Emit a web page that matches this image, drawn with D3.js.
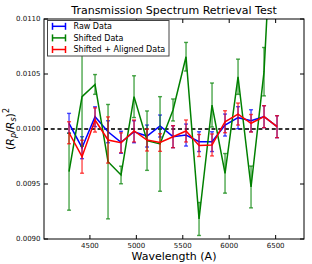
<!DOCTYPE html>
<html><head><meta charset="utf-8">
<script src="https://cdn.jsdelivr.net/npm/d3@7"></script>
<style>body{margin:0;background:#fff} svg{display:block} text{font-family:"DejaVu Sans",sans-serif}</style>
</head><body><svg id="c" width="312" height="264"></svg>
<script>
const wavelength = [4275,4415,4555,4695,4835,4975,5115,5255,5395,5535,5675,5815,5955,6095,6235,6375,6515];
const rawVal   = [0.010052,0.009830,0.010112,0.009975,0.009879,0.009975,0.009936,0.010027,0.009930,0.009945,0.009885,0.009885,0.010036,0.010103,0.010075,0.010112,0.010021];
const rawErr   = [0.00009,0.00010,0.00009,0.00010,0.00010,0.00010,0.00010,0.00010,0.00010,0.00010,0.00009,0.00009,0.00010,0.00010,0.00010,0.00010,0.00010];
const shiftVal = [0.009612,0.010294,0.010405,0.009703,0.009582,0.010294,0.009894,0.009864,0.010173,0.010657,0.009182,0.010218,0.009597,0.010475,0.009473,0.010521,0.012800];
const shiftErr = [0.00035,0.00045,0.00009,0.00052,0.00008,0.00019,0.00027,0.00043,0.00010,0.00013,0.00015,0.00020,0.00018,0.00016,0.00019,0.00022,0.00020];
const alignVal = [0.009966,0.009748,0.010082,0.009900,0.009875,0.009982,0.009900,0.009877,0.009930,0.009982,0.009850,0.009855,0.010066,0.010136,0.010052,0.010112,0.010021];
const alignErr = [0.00010,0.00015,0.00011,0.00021,0.00009,0.00010,0.00010,0.00008,0.00010,0.00010,0.00010,0.00010,0.00010,0.00010,0.00008,0.00010,0.00010];
const xTicks = [4500,5000,5500,6000,6500];
const yTicks = [0.0090,0.0095,0.0100,0.0105,0.0110];
const refLevel = 0.0100;
const seriesNames = ["Raw Data","Shifted Data","Shifted + Aligned Data"];
const seriesColors = ["#0000ff","#008000","#ff0000"];
const titleText = "Transmission Spectrum Retrieval Test";
const xLabel = "Wavelength (A)";

const L=44, R=304, T=19, B=239;
const svg = d3.select("#c");
const x = d3.scaleLinear().domain([4000,6800]).range([43.5,303.5]);
const y = d3.scaleLinear().domain([0.009,0.011]).range([B,T]);

svg.append("defs").append("clipPath").attr("id","clip").append("rect")
  .attr("x",L).attr("y",T).attr("width",R-L).attr("height",B-T);

const series = [
  {v:rawVal,e:rawErr,c:seriesColors[0]},
  {v:shiftVal,e:shiftErr,c:seriesColors[1]},
  {v:alignVal,e:alignErr,c:seriesColors[2]}
];

const plot = svg.append("g").attr("clip-path","url(#clip)");
// reference dashed line
plot.append("line").attr("x1",L).attr("x2",R).attr("y1",y(refLevel)).attr("y2",y(refLevel))
  .attr("stroke","#333").attr("stroke-width",1.8).attr("stroke-dasharray","4 2.7");

const line = d3.line().x((d,i)=>x(wavelength[i])).y(d=>y(d));
series.forEach(s=>{
  const g = plot.append("g");
  g.append("path").datum(s.v).attr("d",line).attr("fill","none")
    .attr("stroke",s.c).attr("stroke-width",1.5);
  const eb = g.selectAll("g.eb").data(s.v).join("g").attr("stroke",s.c)
    .attr("stroke-opacity",0.7).attr("stroke-width",1.4);
  eb.append("line").attr("x1",(d,i)=>x(wavelength[i])).attr("x2",(d,i)=>x(wavelength[i]))
    .attr("y1",(d,i)=>y(d+s.e[i])).attr("y2",(d,i)=>y(d-s.e[i]));
  eb.append("line").attr("x1",(d,i)=>x(wavelength[i])-2).attr("x2",(d,i)=>x(wavelength[i])+2)
    .attr("y1",(d,i)=>y(d+s.e[i])).attr("y2",(d,i)=>y(d+s.e[i]));
  eb.append("line").attr("x1",(d,i)=>x(wavelength[i])-2).attr("x2",(d,i)=>x(wavelength[i])+2)
    .attr("y1",(d,i)=>y(d-s.e[i])).attr("y2",(d,i)=>y(d-s.e[i]));
});

// frame
svg.append("rect").attr("x",L).attr("y",T).attr("width",R-L).attr("height",B-T)
  .attr("fill","none").attr("stroke","#000").attr("stroke-width",1);

// ticks
const tk = svg.append("g").attr("stroke","#000").attr("stroke-width",1);
xTicks.forEach(t=>{
  tk.append("line").attr("x1",x(t)).attr("x2",x(t)).attr("y1",B).attr("y2",B-4);
  tk.append("line").attr("x1",x(t)).attr("x2",x(t)).attr("y1",T).attr("y2",T+4);
});
yTicks.forEach(t=>{
  tk.append("line").attr("x1",L).attr("x2",L+4).attr("y1",y(t)).attr("y2",y(t));
  tk.append("line").attr("x1",R).attr("x2",R-4).attr("y1",y(t)).attr("y2",y(t));
});
svg.append("g").selectAll("text").data(xTicks).join("text")
  .attr("x",d=>x(d)).attr("y",248).attr("text-anchor","middle").attr("font-size",7)
  .attr("fill","#111").text(d=>d);
const fy = d3.format(".4f");
svg.append("g").selectAll("text").data(yTicks).join("text")
  .attr("x",40.5).attr("y",d=>y(d)).attr("dy","0.35em").attr("text-anchor","end")
  .attr("font-size",7).attr("fill","#111").text(d=>fy(d));

// title and labels
svg.append("text").attr("x",174).attr("y",13.5).attr("text-anchor","middle")
  .attr("font-size",11).attr("fill","#000").text(titleText);
svg.append("text").attr("x",174).attr("y",260).attr("text-anchor","middle")
  .attr("font-size",11).attr("fill","#000").text(xLabel);
const yl = svg.append("text").attr("transform","translate(14,129) rotate(-90)")
  .attr("text-anchor","middle").attr("font-size",11).attr("fill","#000");
yl.append("tspan").text("(");
yl.append("tspan").attr("font-style","italic").text("R");
yl.append("tspan").attr("font-style","italic").attr("font-size",8).attr("dy",2).text("p");
yl.append("tspan").attr("dy",-2).text("/");
yl.append("tspan").attr("font-style","italic").text("R");
yl.append("tspan").attr("font-style","italic").attr("font-size",8).attr("dy",2).text("s");
yl.append("tspan").attr("dy",-2).text(")");
yl.append("tspan").attr("font-size",8).attr("dy",-5).text("2");

// legend
const lg = svg.append("g");
lg.append("rect").attr("x",47.5).attr("y",20.5).attr("width",121.5).attr("height",35.5)
  .attr("fill","#fff").attr("stroke","#444").attr("stroke-width",1);
seriesNames.forEach((n,i)=>{
  const cy = 26.3 + i*11.6;
  const g = lg.append("g").attr("stroke",seriesColors[i]).attr("stroke-width",1.5);
  g.append("line").attr("x1",52.5).attr("x2",65.5).attr("y1",cy).attr("y2",cy);
  g.append("line").attr("x1",52.5).attr("x2",52.5).attr("y1",cy-3.5).attr("y2",cy+3.5);
  g.append("line").attr("x1",65.5).attr("x2",65.5).attr("y1",cy-3.5).attr("y2",cy+3.5);
  lg.append("text").attr("x",73.5).attr("y",cy).attr("dy","0.35em").attr("font-size",8)
    .attr("fill","#000").text(n);
});
</script></body></html>
